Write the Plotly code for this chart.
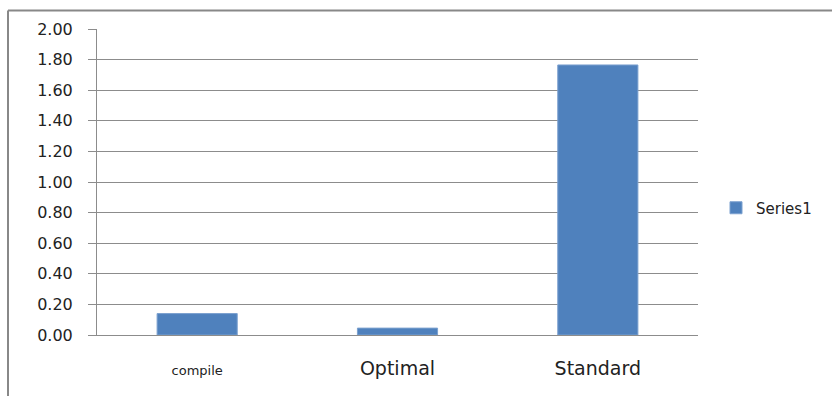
import plotly.graph_objects as go

categories = ["compile", "Optimal", "Standard"]
values = [0.14, 0.045, 1.765]
tick_labels = [
    "<span style='font-size:13px'>compile</span>",
    "Optimal",
    "Standard",
]
y_ticks = [0, 0.2, 0.4, 0.6, 0.8, 1.0, 1.2, 1.4, 1.6, 1.8, 2.0]

W, H = 832, 396
L, R, T, B = 97, 698, 29, 335

def px_x(p):
    return (p - L) / (R - L)

def px_y(p):
    return (B - p) / (B - T)

fig = go.Figure()
fig.add_trace(go.Bar(
    x=categories, y=values, name="Series1",
    marker=dict(color="#4F81BD", line=dict(color="#7BA0CF", width=1)),
))

grid = "#8c8c8c"
font = "DejaVu Sans"
fig.update_layout(
    width=W, height=H,
    margin=dict(l=L, r=W - R, t=T, b=H - B, pad=0),
    paper_bgcolor="white", plot_bgcolor="white",
    bargap=0.6,
    font=dict(family=font, color="#222222"),
    showlegend=True,
    legend=dict(x=px_x(716), y=px_y(208), xanchor="left", yanchor="middle",
                font=dict(size=15, family=font, color="#222222"),
                bgcolor="rgba(0,0,0,0)", itemwidth=30, borderwidth=0),
    xaxis=dict(
        tickmode="array", tickvals=categories, ticktext=tick_labels,
        showgrid=False, showline=True, linecolor=grid, linewidth=1,
        ticks="", tickfont=dict(size=19, family=font, color="#222222"),
        ticklabelstandoff=16, fixedrange=True, automargin=False,
    ),
    yaxis=dict(
        range=[0, 2], tickmode="array", tickvals=y_ticks,
        ticktext=[f"{v:.2f}" for v in y_ticks],
        showgrid=True, gridcolor=grid, gridwidth=1,
        showline=True, linecolor=grid, linewidth=1,
        ticks="outside", ticklen=8, tickcolor=grid,
        tickfont=dict(size=16, family=font, color="#222222"),
        ticklabelstandoff=12, zeroline=False, fixedrange=True, automargin=False,
    ),
    shapes=[
        dict(type="line", xref="paper", yref="paper",
             x0=px_x(8), x1=px_x(840), y0=px_y(10.5), y1=px_y(10.5),
             line=dict(color="#888888", width=2)),
        dict(type="line", xref="paper", yref="paper",
             x0=px_x(8), x1=px_x(8), y0=px_y(10.5), y1=px_y(400),
             line=dict(color="#888888", width=2)),
    ],
)

fig.write_html("out.html")
